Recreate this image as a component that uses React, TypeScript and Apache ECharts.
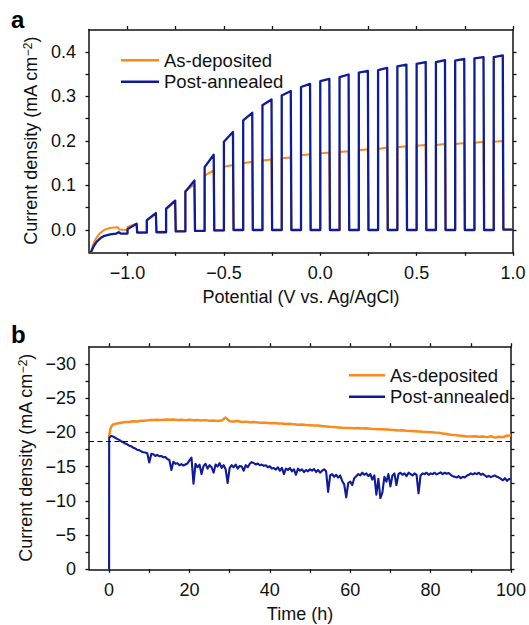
import React, { useEffect, useRef } from "react";
import * as echarts from "echarts";

// ---------- Panel a: chopped linear sweep ----------
const lightOnV = [-1.0, -0.9, -0.8, -0.7, -0.6, -0.5, -0.4, -0.3, -0.2, -0.1, 0.0, 0.1, 0.2, 0.3, 0.4, 0.5, 0.6, 0.7, 0.8, 0.9];
const pulseWidthV = 0.05;
const sweepEndV = 1.0;

const blueInit: [number, number][] = [
  [-1.19, -0.05], [-1.175, -0.036], [-1.16, -0.026], [-1.14, -0.018], [-1.12, -0.013],
  [-1.09, -0.010], [-1.06, -0.008], [-1.045, -0.005], [-1.035, -0.008], [-1.0, -0.008],
];
const blueTopStart = [0.002, 0.022, 0.048, 0.086, 0.141, 0.198, 0.246, 0.280, 0.302, 0.321, 0.334, 0.343, 0.353, 0.359, 0.367, 0.373, 0.377, 0.380, 0.385, 0.388];
const blueTopEnd = [0.014, 0.038, 0.066, 0.111, 0.169, 0.220, 0.263, 0.293, 0.312, 0.328, 0.339, 0.349, 0.357, 0.364, 0.371, 0.377, 0.381, 0.384, 0.388, 0.392];
const blueDark = [-0.006, -0.005, -0.003, -0.002, -0.001, 0, 0, 0, 0, 0, 0, 0, 0, 0, 0, 0, 0, 0, 0, 0.001];

const orangeInit: [number, number][] = [
  [-1.19, -0.05], [-1.178, -0.032], [-1.165, -0.02], [-1.145, -0.008], [-1.125, -0.001],
  [-1.105, 0.003], [-1.085, 0.005], [-1.05, 0.006], [-1.043, 0.001], [-1.0, 0.0],
];
const orangeTopStart = [0.007, 0.021, 0.046, 0.088, 0.122, 0.142, 0.150, 0.156, 0.161, 0.168, 0.172, 0.175, 0.179, 0.182, 0.186, 0.189, 0.191, 0.193, 0.196, 0.198];
const orangeTopEnd = [0.014, 0.036, 0.064, 0.102, 0.134, 0.146, 0.153, 0.158, 0.163, 0.170, 0.174, 0.177, 0.181, 0.185, 0.188, 0.191, 0.193, 0.195, 0.198, 0.200];
const orangeDark = [-0.005, -0.004, -0.003, -0.002, -0.001, 0, 0, 0, 0, 0, 0, 0, 0, 0, 0, 0, 0, 0, 0, 0.001];

// ---------- Panel b: stability (mA cm^-2 vs h) ----------
const orangeEarly: [number, number][] = [[0, -19.3], [0.3, -20.5], [0.6, -20.9]];
// hourly from 1 h to 100 h
const orangeHourly = [
  -21.15, -21.30, -21.40, -21.50, -21.50, -21.60, -21.58, -21.68, -21.70, -21.78,
  -21.80, -21.85, -21.78, -21.88, -21.82, -21.86, -21.80, -21.84, -21.78, -21.82,
  -21.76, -21.80, -21.72, -21.78, -21.70, -21.74, -21.66, -21.72, -22.15, -21.62,
  -21.58, -21.64, -21.52, -21.56, -21.48, -21.52, -21.44, -21.40, -21.38, -21.34,
  -21.36, -21.28, -21.30, -21.22, -21.24, -21.16, -21.12, -21.14, -21.06, -21.04,
  -20.98, -21.00, -20.92, -20.86, -20.80, -20.76, -20.72, -20.66, -20.62, -20.64,
  -20.60, -20.62, -20.56, -20.58, -20.52, -20.50, -20.46, -20.44, -20.40, -20.36,
  -20.34, -20.28, -20.30, -20.22, -20.20, -20.16, -20.12, -20.08, -20.06, -20.02,
  -19.96, -19.92, -19.84, -19.76, -19.66, -19.62, -19.52, -19.46, -19.40, -19.38,
  -19.44, -19.34, -19.40, -19.30, -19.42, -19.22, -19.36, -19.28, -19.50, -19.56,
];
const blueEarly: [number, number][] = [[0, 0], [0.02, -19.2]];
// every 0.5 h from 0.5 h to 100 h
const blueHalfHourly = [
  -19.45, -19.40, -19.20, -19.05, -18.90, -18.70, -18.55, -18.35, -18.25, -18.05,
  -17.95, -17.75, -17.65, -17.45, -17.40, -17.20, -17.10, -17.05, -16.95, -15.60,
  -16.85, -16.80, -16.55, -16.70, -16.50, -16.55, -16.35, -16.40, -16.10, -15.95,
  -14.50, -15.70, -15.40, -15.50, -15.20, -15.35, -15.15, -15.30, -15.45, -15.90,
  -16.30, -12.50, -15.40, -14.90, -15.30, -13.90, -15.10, -15.40, -14.70, -15.20,
  -14.90, -14.10, -15.30, -15.00, -15.50, -14.80, -15.20, -14.60, -12.60, -14.80,
  -15.20, -14.90, -15.30, -14.70, -15.10, -15.00, -14.40, -15.20, -14.90, -15.40,
  -15.65, -15.50, -15.30, -15.45, -15.20, -15.30, -15.10, -15.20, -14.90, -15.05,
  -14.70, -14.80, -14.55, -14.90, -14.40, -14.80, -13.90, -14.70, -14.50, -14.80,
  -14.30, -14.60, -13.80, -14.70, -14.40, -14.60, -14.20, -14.50, -14.30, -14.60,
  -14.40, -14.65, -14.20, -14.50, -14.10, -14.40, -14.60, -14.30, -11.30, -13.70,
  -13.90, -13.50, -13.80, -13.40, -13.70, -12.90, -12.40, -10.50, -12.60, -12.80,
  -12.30, -13.30, -13.60, -13.90, -13.70, -14.10, -13.80, -14.00, -13.60, -13.90,
  -13.10, -13.70, -10.90, -13.20, -10.40, -11.20, -13.50, -12.80, -13.90, -12.10,
  -13.70, -14.00, -12.30, -13.90, -14.10, -13.80, -14.00, -13.60, -14.10, -13.90,
  -13.70, -14.00, -13.80, -11.10, -13.70, -14.00, -13.90, -14.10, -13.80, -14.00,
  -13.90, -14.10, -13.85, -14.00, -14.15, -13.90, -14.10, -13.95, -14.05, -13.80,
  -13.60, -13.50, -13.40, -13.60, -13.30, -13.50, -13.40, -13.65, -13.80, -14.00,
  -13.85, -14.05, -13.90, -14.10, -13.80, -13.95, -13.70, -13.50, -13.65, -13.45,
  -13.60, -13.70, -13.50, -13.40, -13.20, -13.00, -13.30, -12.90, -13.20, -13.10,
];
const referenceLevel = -18.7;

// ---------- ticks ----------
const aXLabels = [-1.0, -0.5, 0.0, 0.5, 1.0];
const aXTicks = [-1.0, -0.75, -0.5, -0.25, 0.0, 0.25, 0.5, 0.75, 1.0];
const aYLabels = [0.0, 0.1, 0.2, 0.3, 0.4];
const aYTicks = [0.0, 0.05, 0.1, 0.15, 0.2, 0.25, 0.3, 0.35, 0.4];
const bXLabels = [0, 20, 40, 60, 80, 100];
const bXTicks = [0, 10, 20, 30, 40, 50, 60, 70, 80, 90, 100];
const bYLabels = [0, -5, -10, -15, -20, -25, -30];
const bYTicks = [0, -2.5, -5, -7.5, -10, -12.5, -15, -17.5, -20, -22.5, -25, -27.5, -30];

const NAMES = ["As-deposited", "Post-annealed"];
const ORANGE = "#FA8A1C";
const BLUE = "#0E1B9A";
const FONT = '"Liberation Sans", Arial, Helvetica, sans-serif';
const INK = "#111";

function buildSweep(init: [number, number][], topStart: number[], topEnd: number[], dark: number[]) {
  const pts: [number, number][] = init.map((p) => [p[0], p[1]]);
  let prev = init[init.length - 1][1];
  lightOnV.forEach((v, i) => {
    pts.push([v, prev]);
    pts.push([v, topStart[i]]);
    pts.push([v + pulseWidthV * 0.94, topEnd[i]]);
    pts.push([v + pulseWidthV, dark[i]]);
    prev = dark[i];
  });
  pts.push([sweepEndV, prev]);
  return pts;
}

const minus = (s: string) => s.replace("-", "\u2212");

function frameAxes(kind: "x" | "y", gridIndex: number, min: number, max: number, ticks: number[], labels: number[], fmt: (v: number) => string, extra: any) {
  const base = {
    type: "value",
    gridIndex,
    min,
    max,
    splitLine: { show: false },
    axisLine: { show: true, onZero: false, lineStyle: { color: INK, width: 1.5 } },
    axisTick: { show: true, inside: false, length: 3.5, customValues: ticks, lineStyle: { color: INK, width: 1.3 } },
  };
  const main = {
    ...base,
    position: kind === "x" ? "bottom" : "left",
    axisLabel: { show: true, customValues: labels, formatter: fmt, color: INK, fontSize: 18, fontFamily: FONT, margin: kind === "x" ? 12 : 13 },
    ...extra,
  };
  const mirror = {
    ...base,
    position: kind === "x" ? "top" : "right",
    axisLabel: { show: false },
  };
  return [main, mirror];
}

const yName = "Current density (mA cm{s|\u22122})";
const nameStyle = {
  color: INK,
  fontSize: 18,
  fontFamily: FONT,
  rich: { s: { fontSize: 12, fontFamily: FONT, color: INK, verticalAlign: "top", lineHeight: 12 } },
};

export default function App() {
  const ref = useRef<HTMLDivElement>(null);
  useEffect(() => {
    if (!ref.current) return;
    const chart = echarts.init(ref.current, undefined, { renderer: "svg" });
    const [ax, axTop] = frameAxes("x", 0, -1.2, 1.0, aXTicks, aXLabels, (v) => minus(v.toFixed(1)), {
      name: "Potential (V vs. Ag/AgCl)", nameLocation: "middle", nameGap: 36, nameTextStyle: { color: INK, fontSize: 18, fontFamily: FONT },
    });
    const [ay, ayRight] = frameAxes("y", 0, -0.05, 0.45, aYTicks, aYLabels, (v) => minus(v.toFixed(1)), {
      name: yName, nameLocation: "middle", nameGap: 48, nameTextStyle: nameStyle,
    });
    const [bx, bxTop] = frameAxes("x", 1, -5, 100, bXTicks, bXLabels, (v) => minus(String(v)), {
      name: "Time (h)", nameLocation: "middle", nameGap: 36, nameTextStyle: { color: INK, fontSize: 18, fontFamily: FONT },
    });
    const [by, byRight] = frameAxes("y", 1, -32.5, 0, bYTicks, bYLabels, (v) => minus(String(v)), {
      inverse: true, name: yName, nameLocation: "middle", nameGap: 52, nameTextStyle: nameStyle,
    });
    (byRight as any).inverse = true;

    const orangeB: [number, number][] = [...orangeEarly, ...orangeHourly.map((v, i) => [i + 1, v] as [number, number])];
    const blueB: [number, number][] = [...blueEarly, ...blueHalfHourly.map((v, i) => [(i + 1) * 0.5, v] as [number, number])];

    const legendCommon = {
      orient: "vertical",
      icon: "rect",
      itemHeight: 2.5,
      itemGap: 1,
      data: NAMES,
      selectedMode: false,
      textStyle: { color: INK, fontSize: 18.5, fontFamily: FONT, lineHeight: 20.5 },
    };

    chart.setOption({
      animation: false,
      backgroundColor: "#fff",
      textStyle: { fontFamily: FONT },
      grid: [
        { left: 89, top: 29.5, width: 424, height: 222.8 },
        { left: 89, top: 346.7, width: 424, height: 222.6 },
      ],
      xAxis: [ax, axTop, bx, bxTop],
      yAxis: [ay, ayRight, by, byRight],
      legend: [
        { ...legendCommon, left: 116, top: 45, itemWidth: 38 },
        { ...legendCommon, left: 344, top: 360, itemWidth: 36 },
      ],
      graphic: [
        { type: "text", left: 11, top: 7, style: { text: "a", font: `bold 24px ${FONT}`, fill: "#000" } },
        { type: "text", left: 11, top: 322, style: { text: "b", font: `bold 24px ${FONT}`, fill: "#000" } },
      ],
      series: [
        {
          name: NAMES[0], type: "line", xAxisIndex: 0, yAxisIndex: 0, showSymbol: false, symbol: "none",
          color: ORANGE, lineStyle: { color: ORANGE, width: 2, join: "round" },
          data: buildSweep(orangeInit, orangeTopStart, orangeTopEnd, orangeDark),
        },
        {
          name: NAMES[1], type: "line", xAxisIndex: 0, yAxisIndex: 0, showSymbol: false, symbol: "none",
          color: BLUE, lineStyle: { color: BLUE, width: 2.3, join: "round" },
          data: buildSweep(blueInit, blueTopStart, blueTopEnd, blueDark),
        },
        {
          name: NAMES[0], type: "line", xAxisIndex: 2, yAxisIndex: 2, showSymbol: false, symbol: "none",
          color: ORANGE, lineStyle: { color: ORANGE, width: 2.5, join: "round" },
          data: orangeB,
        },
        {
          name: NAMES[1], type: "line", xAxisIndex: 2, yAxisIndex: 2, showSymbol: false, symbol: "none",
          color: BLUE, lineStyle: { color: BLUE, width: 2.1, join: "round" },
          data: blueB,
          markLine: {
            silent: true, symbol: ["none", "none"], label: { show: false },
            lineStyle: { color: "#000", type: [5, 3.5], width: 1.2 },
            data: [{ yAxis: referenceLevel }],
          },
        },
      ],
    });
    return () => chart.dispose();
  }, []);
  return <div ref={ref} style={{ position: "absolute", left: 0, top: 0, width: 529, height: 625, background: "#fff" }} />;
}
